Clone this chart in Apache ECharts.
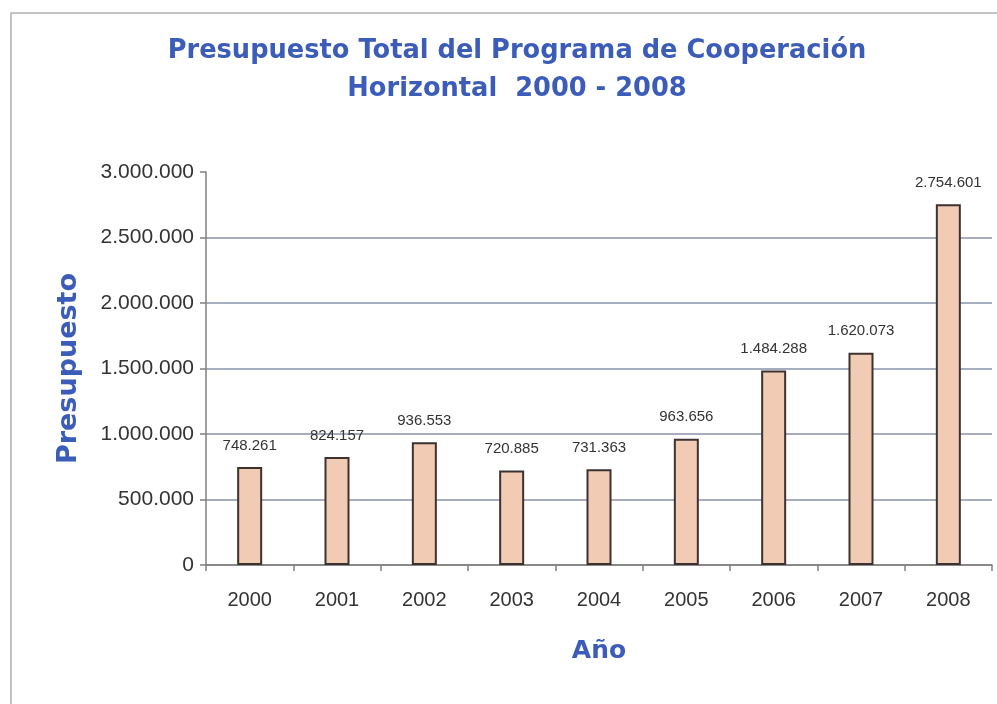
<!DOCTYPE html>
<html><head><meta charset="utf-8">
<script src="https://cdn.jsdelivr.net/npm/echarts@6/dist/echarts.min.js"></script>
<style>html,body{margin:0;padding:0;background:#fff}#c{width:997px;height:704px}</style>
</head><body><div id="c"></div>
<script>
var years = ['2000','2001','2002','2003','2004','2005','2006','2007','2008'];
var budget = [748261, 824157, 936553, 720885, 731363, 963656, 1484288, 1620073, 2754601];
var titleLines = ['Presupuesto Total del Programa de Cooperación', 'Horizontal  2000 - 2008'];
var yAxisName = 'Presupuesto';
var xAxisName = 'Año';

function fmt(v){ return String(Math.round(v)).replace(/\B(?=(\d{3})+(?!\d))/g, '.'); }

var chart = echarts.init(document.getElementById('c'));
chart.setOption({
  animation: false,
  backgroundColor: '#fff',
  graphic: [{type:'polyline', shape:{points:[[11,704],[11,13],[997,13]]}, style:{stroke:'#b0b0b0', lineWidth:1.5, fill:null}}],
  title: {
    text: titleLines.join('\n'), left: 512, top: 27, textAlign: 'center',
    textStyle: {fontFamily:'DejaVu Sans', fontWeight:'bold', fontSize:25.7, color:'#3b5cb8', lineHeight:38}
  },
  grid: {left: 206, right: 5, top: 172, bottom: 139, containLabel: false},
  xAxis: {
    type: 'category', data: years,
    name: xAxisName, nameLocation: 'middle', nameGap: 74,
    nameTextStyle: {fontFamily:'DejaVu Sans', fontWeight:'bold', fontSize:25, color:'#3b5cb8'},
    axisLine: {lineStyle:{color:'#808080', width:1.5}},
    axisTick: {show:true, length:6, lineStyle:{color:'#808080', width:1.5}},
    axisLabel: {fontFamily:'Liberation Sans', fontSize:20, color:'#333', margin:25}
  },
  yAxis: {
    type: 'value', min: 0, max: 3000000, interval: 500000,
    name: yAxisName, nameLocation: 'middle', nameGap: 124, nameRotate: 90,
    nameTextStyle: {fontFamily:'DejaVu Sans', fontWeight:'bold', fontSize:27, color:'#3b5cb8'},
    axisLine: {show:true, lineStyle:{color:'#808080', width:1.5}},
    axisTick: {show:true, length:6, inside:false, lineStyle:{color:'#808080', width:1.5}},
    axisLabel: {fontFamily:'Liberation Sans', fontSize:21, color:'#333', margin:12, formatter: fmt},
    splitLine: {show:true, lineStyle:{color:['#808080','#8a92ad','#8a92ad','#8a92ad','#8a92ad','#8a92ad','rgba(0,0,0,0)'], width:1.5}}
  },
  series: [{
    type: 'bar', data: budget, barWidth: 25,
    itemStyle: {color:'#f1cbb4', borderColor:'#3d3230', borderWidth:2},
    label: {show:true, position:'top', distance:14, fontFamily:'Liberation Sans', fontSize:15, color:'#333', formatter: function(p){return fmt(p.value);}}
  }]
});
</script></body></html>
